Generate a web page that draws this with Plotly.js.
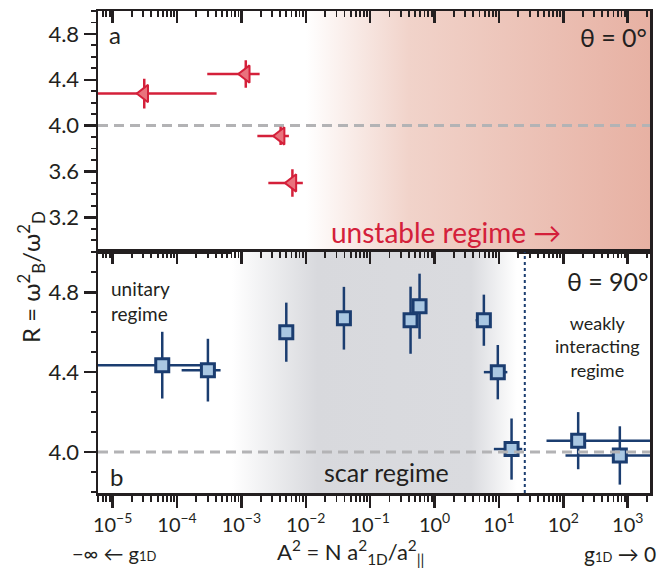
<!DOCTYPE html>
<html><head><meta charset="utf-8">
<script src="https://cdn.plot.ly/plotly-3.0.1.min.js"></script>
<style>html,body{margin:0;padding:0;background:#fff}#chart{width:665px;height:569px}</style>
</head><body><div id="chart"></div>
<script>
// ---------- Data: panel a (theta = 0 deg) ----------
const a_x    = [3.1e-5, 1.17e-3, 4.07e-3, 6.2e-3];
const a_y    = [4.28, 4.45, 3.91, 3.50];
const a_yerr = [0.13, 0.12, 0.08, 0.12];
const a_xlo  = [1e-6, 2.95e-4, 1.77e-3, 2.62e-3];
const a_xhi  = [4.12e-4, 1.92e-3, 5.47e-3, 9.0e-3];

// ---------- Data: panel b (theta = 90 deg) ----------
const b_x    = [5.9e-5, 3.02e-4, 4.98e-3, 0.0391, 0.424, 0.585, 5.83, 9.6, 15.7, 170, 754];
const b_y    = [4.435, 4.41, 4.60, 4.67, 4.66, 4.73, 4.66, 4.40, 4.015, 4.057, 3.983];
const b_yerr = [0.167, 0.157, 0.148, 0.157, 0.168, 0.163, 0.128, 0.136, 0.153, 0.143, 0.146];
const b_xlo  = [1e-6, 1.18e-4, 4.98e-3, 0.0391, 0.424, 0.585, 4.34, 5.83, 8.34, 54.8, 108];
const b_xhi  = [2.7e-4, 4.75e-4, 4.98e-3, 0.0391, 0.424, 0.585, 7.0, 13.5, 23.0, 1e4, 1e4];

const refR = 4.0;          // dashed reference line
const crossover = 25.2;    // dotted boundary of the weakly interacting regime
const unstableStart = 1e-2;
const scarStart = 7.1e-4, scarEnd = 19.0;

const xTickVals = [1e-5, 1e-4, 1e-3, 1e-2, 1e-1, 1, 10, 100, 1000];
const xTickText = ['10<sup>−5</sup>','10<sup>−4</sup>','10<sup>−3</sup>','10<sup>−2</sup>','10<sup>−1</sup>',
                   '10<sup>0</sup>','10<sup>1</sup>','10<sup>2</sup>','10<sup>3</sup>'];
const yTicksA = [3.2, 3.6, 4.0, 4.4, 4.8];
const yTicksB = [4.0, 4.4, 4.8];

// ---------- layout geometry ----------
const xRangeLog = [-5.227, 3.346], yRangeA = [2.9, 5.0], yRangeB = [3.795, 5.003];
const xMin = Math.pow(10, xRangeLog[0]), xMax = Math.pow(10, xRangeLog[1]);
const W = 665, H = 569, ML = 98, MR = 15, MT = 11, MB = 76;
const PW = W - ML - MR, PH = H - MT - MB;
const split = (H - MB - 251.7) / PH;
const px = p => (p - ML) / PW;
const py = p => (H - MB - p) / PH;

const ink = '#231f20', red = '#d4203a', redFill = '#e9737d', navy = '#1b3d70', blueFill = '#a9c7e2';
const FONT = 'Lato, "Open Sans", "DejaVu Sans", sans-serif';

const minorVals = [];
for (let d = -6; d <= 3; d++) for (let k = 2; k <= 9; k++) minorVals.push(k * Math.pow(10, d));

const errX = (x, lo, hi, col) => ({ type: 'data', symmetric: false,
  array: x.map((v, i) => hi[i] - v), arrayminus: x.map((v, i) => v - lo[i]), color: col, thickness: 2.5, width: 0 });

const traces = [
  { // unstable regime shading
    x: [unstableStart, xMax, xMax, unstableStart], y: [yRangeA[0], yRangeA[0], yRangeA[1], yRangeA[1]],
    xaxis: 'x', yaxis: 'y', mode: 'none', fill: 'toself', hoverinfo: 'skip', showlegend: false,
    fillgradient: { type: 'horizontal', start: unstableStart, stop: xMax,
      colorscale: [[0, 'rgb(255,255,255)'], [0.3, 'rgb(241,211,202)'], [1, 'rgb(231,177,163)']] } },
  { // scar regime shading
    x: [scarStart, scarEnd, scarEnd, scarStart], y: [yRangeB[0], yRangeB[0], yRangeB[1], yRangeB[1]],
    xaxis: 'x2', yaxis: 'y2', mode: 'none', fill: 'toself', hoverinfo: 'skip', showlegend: false,
    fillgradient: { type: 'horizontal', start: scarStart, stop: scarEnd,
      colorscale: [[0, 'rgb(255,255,255)'], [0.3, 'rgb(216,217,221)'], [0.84, 'rgb(218,219,223)'], [1, 'rgb(255,255,255)']] } },
  { x: [xMin, xMax], y: [refR, refR], xaxis: 'x', yaxis: 'y', mode: 'lines', hoverinfo: 'skip', showlegend: false,
    line: { color: '#b3b3b5', width: 3, dash: '10px,6px' } },
  { x: [xMin, xMax], y: [refR, refR], xaxis: 'x3', yaxis: 'y2', mode: 'lines', hoverinfo: 'skip', showlegend: false,
    line: { color: '#b3b3b5', width: 3, dash: '10px,6px' } },
  { x: [crossover, crossover], y: yRangeB, xaxis: 'x2', yaxis: 'y2', mode: 'lines', hoverinfo: 'skip', showlegend: false,
    line: { color: navy, width: 2, dash: 'dot' } },
  { x: a_x, y: a_y, xaxis: 'x', yaxis: 'y', mode: 'markers', showlegend: false,
    marker: { symbol: 'triangle-left', size: 15, color: redFill, line: { color: red, width: 2 } },
    error_y: { type: 'data', array: a_yerr, color: red, thickness: 2.5, width: 0 }, error_x: errX(a_x, a_xlo, a_xhi, red) },
  { x: b_x, y: b_y, xaxis: 'x2', yaxis: 'y2', mode: 'markers', showlegend: false,
    marker: { symbol: 'square', size: 13, color: blueFill, line: { color: navy, width: 3 } },
    error_y: { type: 'data', array: b_yerr, color: navy, thickness: 2.5, width: 0 }, error_x: errX(b_x, b_xlo, b_xhi, navy) }
];

const baseX = { type: 'log', range: xRangeLog, showgrid: false, zeroline: false,
  tickmode: 'array', tickvals: xTickVals, ticktext: xTickText, tickcolor: ink, tickwidth: 2.5, ticklen: 12,
  showline: true, linecolor: ink, linewidth: 2.5, tickfont: { family: FONT, size: 20, color: ink } };
const minorX = t => ({ tickmode: 'array', tickvals: minorVals, ticks: t, ticklen: 6, tickwidth: 1.8, tickcolor: ink, showgrid: false });
const xaxis = Object.assign({}, baseX, { anchor: 'y', side: 'top', ticks: 'inside', showticklabels: false, mirror: true, minor: minorX('inside') });
const xaxis2 = Object.assign({}, baseX, { anchor: 'y2', side: 'bottom', ticks: 'outside', showticklabels: true, mirror: true, minor: minorX('outside') });
const xaxis3 = Object.assign({}, baseX, { anchor: 'y2', side: 'top', overlaying: 'x2', matches: 'x2', ticks: 'inside',
  showticklabels: false, showline: false, minor: minorX('inside') });

const baseY = { showgrid: false, zeroline: false, ticks: 'outside', ticklen: 12, tickwidth: 2.5, tickcolor: ink,
  showline: true, mirror: true, linecolor: ink, linewidth: 2.5, tickformat: '.1f', tickmode: 'linear',
  tickfont: { family: FONT, size: 22, color: ink },
  minor: { dtick: 0.1, tick0: 0, ticks: 'outside', ticklen: 5, tickwidth: 1.8, tickcolor: ink, showgrid: false } };
const yaxis = Object.assign({}, baseY, { anchor: 'x', domain: [split, 1], range: yRangeA, tick0: yTicksA[0], dtick: yTicksA[1] - yTicksA[0] });
const yaxis2 = Object.assign({}, baseY, { anchor: 'x2', domain: [0, split], range: yRangeB, tick0: yTicksB[0], dtick: yTicksB[1] - yTicksB[0] });

const ann = (text, x, y, size, opts) => Object.assign({ text, x: px(x), y: py(y), xref: 'paper', yref: 'paper', showarrow: false,
  font: { family: FONT, size, color: ink }, xanchor: 'left', yanchor: 'middle' }, opts || {});

const annotations = [
  ann('a', 107, 34, 24),
  ann('θ\u2005=\u20050°', 649, 37, 25, { xanchor: 'right' }),
  ann('unstable regime →', 329, 232, 28, { font: { family: FONT, size: 28, color: red } }),
  ann('b', 108, 476, 24),
  ann('unitary<br>regime', 109, 301, 19, { align: 'left' }),
  ann('θ\u2005=\u200590°', 650, 281, 25, { xanchor: 'right' }),
  ann('weakly<br>interacting<br>regime', 597, 346, 18, { xanchor: 'center', align: 'center' }),
  ann('scar regime', 386, 472, 25, { xanchor: 'center' }),
  ann('R = ω<sup>2</sup><sub>B</sub>/ω<sup>2</sup><sub>D</sub>', 31, 277, 24, { xanchor: 'center', textangle: -90 }),
  ann('A<sup>2</sup> = N a<sup>2</sup><sub>1D</sub>/a<sup>2</sup><sub>||</sub>', 350, 552, 22, { xanchor: 'center' }),
  ann('−∞ ← g<span style="font-size:13px">1D</span>', 70, 553, 20),
  ann('g<span style="font-size:13px">1D</span> → 0', 658, 553, 21, { xanchor: 'right' }),
  ann('10', 652, 6, 22, { xanchor: 'right', yanchor: 'bottom' })
];

const layout = { width: W, height: H, margin: { l: ML, r: MR, t: MT, b: MB }, paper_bgcolor: '#fff', plot_bgcolor: 'rgba(0,0,0,0)',
  showlegend: false, font: { family: FONT, color: ink }, xaxis, xaxis2, xaxis3, yaxis, yaxis2, annotations };

Plotly.newPlot('chart', traces, layout, { displayModeBar: false, staticPlot: true });
</script>
</body></html>
